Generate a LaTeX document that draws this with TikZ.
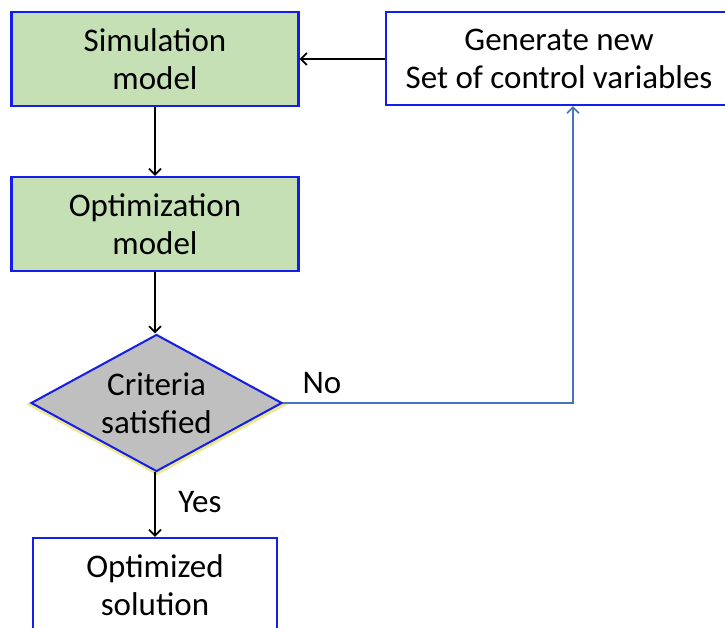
\documentclass[tikz,border=0pt]{standalone}
\usepackage{fontspec}
\setmainfont{Carlito}
\usetikzlibrary{shapes.geometric,arrows.meta}
\definecolor{boxblue}{RGB}{20,30,235}
\definecolor{linkblue}{RGB}{68,114,196}
\definecolor{boxgreen}{RGB}{197,224,180}
\definecolor{dgray}{RGB}{191,191,191}
\definecolor{glow}{RGB}{232,222,110}
\tikzset{
  x=1pt,y=1pt,
  txt/.style={font=\fontsize{33}{38}\selectfont, align=center, text=black},
  procbox/.style={txt, draw=boxblue, line width=2.2pt, inner sep=0pt, minimum width=287pt, minimum height=94pt},
  greenbox/.style={procbox, fill=boxgreen},
  whitebox/.style={procbox, fill=white},
  decision/.style={diamond, aspect=1.832, draw=boxblue, fill=dgray, line width=2pt, inner sep=0pt, minimum width=251pt, minimum height=137pt},
  flow/.style={draw=black, line width=1.8pt, -{Straight Barb[length=6pt,width=12pt,line width=1.8pt]}},
  backflow/.style={draw=linkblue, line width=1.6pt, -{Straight Barb[length=6pt,width=12pt,line width=1.6pt]}},
  lbl/.style={txt, inner sep=0pt}
}
\begin{document}
\begin{tikzpicture}
\useasboundingbox (0,0) rectangle (725,628);
\clip (0,0) rectangle (725,628);
\fill[white] (0,0) rectangle (725,628);
\node[greenbox] (sim) at (155,569) {Simulation\\model};
\node[whitebox, minimum width=346pt, minimum height=93pt] (gen) at (559,569.5) {Generate new\\Set of control variables};
\node[greenbox] (opt) at (155,404) {Optimization\\model};
\node[decision, draw=glow, fill=glow, opacity=0.75, line width=6pt] (glowd) at (157,223.5) {};
\node[decision] (crit) at (156.5,225) {};
\node[lbl] (crittext) at (crit.center) {Criteria\\satisfied};
\node[whitebox, minimum width=244pt] (sol) at (155,43) {Optimized\\solution};
\coordinate (corner) at (573,225);
\node[lbl] (no) at (322,245) {No};
\node[lbl] (yes) at (200,126) {Yes};
\draw[flow] (gen.west |- sim.east) -- (sim.east);
\draw[flow] (sim.south) -- (opt.north);
\draw[flow] (opt.south) -- (opt.south |- crit.north);
\draw[flow] (crit.south -| sol.north) -- (sol.north);
\draw[backflow] (crit.east) -- (corner) -- (corner |- gen.south);
\end{tikzpicture}
\end{document}
